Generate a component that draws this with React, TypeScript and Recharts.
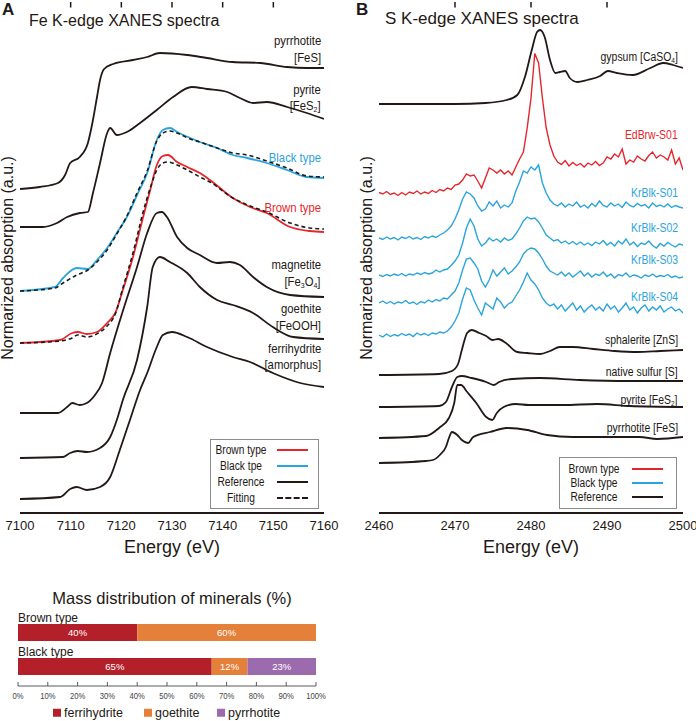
import { LineChart, Line, XAxis, YAxis, Label, BarChart, Bar, LabelList, ReferenceLine } from "recharts";

const W = 696;
const H = 721;
const SANS = "'Liberation Sans', Arial, Helvetica, sans-serif";
const INK = "#231815";
const RED = "#e4262c";
const BLUE = "#2aa4dc";
const Y_MAX = 10.22;

// Fe K-edge spectra: [energy (eV), absorption + stack offset (a.u.)]
const fePyrrhotite = [[7100, 6.48], [7103.9, 6.52], [7107.5, 6.6], [7108.9, 6.76], [7109.9, 7.0], [7111.8, 7.12], [7113.4, 7.4], [7114.4, 7.86], [7115.2, 8.32], [7115.8, 8.66], [7116.6, 8.88], [7118.4, 8.98], [7122.3, 9.06], [7125.1, 9.12], [7127.6, 9.2], [7133, 9.16], [7136.9, 9.1], [7142, 9.02], [7147.4, 9.0], [7152.7, 8.92], [7156.6, 8.9], [7160, 8.9]];
const fePyrite = [[7100, 5.72], [7104.5, 5.72], [7107.3, 5.8], [7109.3, 5.92], [7111.8, 6.0], [7113.4, 6.02], [7114.4, 6.4], [7115.8, 7.0], [7117.2, 7.6], [7117.8, 7.7], [7119.1, 7.56], [7121.1, 7.62], [7123.7, 7.8], [7127, 8.06], [7130.2, 8.32], [7133.9, 8.52], [7136.9, 8.48], [7140.9, 8.42], [7143.4, 8.3], [7146, 8.2], [7148.7, 8.22], [7152.7, 8.12], [7156.6, 8.0], [7160, 7.88]];
const feBlack = [[7100, 4.44], [7106.9, 4.52], [7108.5, 4.7], [7111.2, 4.9], [7113.4, 4.88], [7115.2, 5.06], [7117.2, 5.3], [7119.1, 5.6], [7121.1, 5.92], [7123.1, 6.36], [7125.1, 6.8], [7127, 7.46], [7128.2, 7.66], [7129.6, 7.7], [7131, 7.62], [7133.6, 7.5], [7135.5, 7.42], [7138.9, 7.3], [7142, 7.16], [7144.8, 7.1], [7148.7, 7.0], [7152.7, 6.86], [7156.6, 6.72], [7160, 6.7]];
const feBlackFit = [[7100, 4.44], [7106.9, 4.5], [7108.5, 4.6], [7111.2, 4.76], [7113.4, 4.86], [7115.2, 5.02], [7117.2, 5.26], [7119.1, 5.58], [7121.1, 5.94], [7123.1, 6.4], [7125.1, 6.84], [7127, 7.44], [7128.2, 7.6], [7129.6, 7.64], [7131, 7.6], [7133.6, 7.48], [7135.5, 7.42], [7138.9, 7.3], [7142, 7.2], [7144.8, 7.16], [7148.7, 7.04], [7152.7, 6.9], [7156.6, 6.74], [7160, 6.72]];
const feBrown = [[7100, 3.4], [7107.9, 3.46], [7110.3, 3.6], [7111.4, 3.62], [7113.2, 3.58], [7115.2, 3.62], [7117.2, 3.8], [7118.8, 4.0], [7120.3, 4.46], [7122.3, 5.12], [7124.3, 5.92], [7125.7, 6.46], [7127, 6.96], [7128.2, 7.14], [7129.2, 7.16], [7131, 7.02], [7133, 6.92], [7135.5, 6.8], [7137.5, 6.66], [7142, 6.3], [7145.4, 6.12], [7148.7, 6.0], [7153.3, 5.72], [7157.2, 5.64], [7160, 5.62]];
const feBrownFit = [[7100, 3.4], [7107.9, 3.44], [7110.3, 3.5], [7111.4, 3.56], [7113.2, 3.52], [7115.8, 3.62], [7117.2, 3.74], [7118.8, 3.98], [7120.3, 4.5], [7122.3, 5.2], [7124.3, 6.02], [7125.7, 6.5], [7127, 6.86], [7128.2, 7.0], [7129.2, 7.02], [7131, 6.96], [7133, 6.86], [7135.5, 6.72], [7137.5, 6.62], [7142, 6.3], [7145.4, 6.14], [7148.7, 6.02], [7153.3, 5.8], [7157.2, 5.7], [7160, 5.68]];
const feMagnetite = [[7100, 2.0], [7107.5, 2.0], [7109.3, 2.12], [7110.3, 2.2], [7111.8, 2.16], [7113.2, 2.2], [7114.8, 2.36], [7116.2, 2.6], [7117.8, 3.2], [7120.3, 4.04], [7123.1, 4.92], [7125.1, 5.6], [7127, 6.0], [7128, 6.02], [7129, 5.92], [7131, 5.52], [7133, 5.3], [7135.5, 5.16], [7138.9, 5.0], [7141.4, 5.02], [7143.4, 4.96], [7146, 4.72], [7148.7, 4.52], [7153.3, 4.36], [7160, 4.32]];
const feGoethite = [[7100, 1.1], [7108.5, 1.12], [7109.9, 1.2], [7111.4, 1.24], [7113.2, 1.22], [7115.8, 1.3], [7117.8, 1.52], [7119.3, 1.92], [7120.3, 2.26], [7123.1, 3.06], [7125.1, 4.12], [7126.2, 4.92], [7127.6, 5.12], [7129.6, 5.02], [7133, 4.8], [7135.5, 4.52], [7138.9, 4.26], [7142, 4.16], [7146, 4.0], [7149.9, 3.72], [7153.9, 3.52], [7160, 3.48]];
const feFerrihydrite = [[7100, 0.28], [7107.9, 0.32], [7109.9, 0.48], [7111.2, 0.52], [7113.2, 0.46], [7115.8, 0.52], [7117.8, 0.72], [7119.7, 1.26], [7121.7, 1.86], [7123.7, 2.46], [7125.1, 2.8], [7127, 3.32], [7128.2, 3.56], [7130, 3.62], [7133, 3.52], [7136.9, 3.32], [7142, 3.12], [7145.4, 3.02], [7149.9, 2.8], [7155.3, 2.6], [7160, 2.52]];

// S K-edge reference spectra
const sGypsum = [[2460, 8.18], [2470, 8.18], [2474, 8.2], [2476.8, 8.26], [2478.2, 8.36], [2479.2, 8.72], [2480.1, 9.26], [2480.8, 9.62], [2481.2, 9.66], [2481.8, 9.52], [2482.5, 9.06], [2483.2, 8.8], [2483.8, 8.82], [2484.5, 8.84], [2485.1, 8.7], [2486.1, 8.62], [2487.4, 8.66], [2489.1, 8.74], [2490.1, 8.84], [2491.3, 8.8], [2493.4, 8.76], [2495.7, 8.9], [2497.4, 9.0], [2498.7, 8.96], [2500, 8.9]];
const sSphalerite = [[2460, 2.76], [2467.9, 2.78], [2469.6, 2.84], [2470.4, 2.98], [2470.9, 3.26], [2471.6, 3.6], [2472.2, 3.66], [2473.2, 3.6], [2474.1, 3.54], [2474.9, 3.46], [2475.7, 3.48], [2476.7, 3.4], [2478.2, 3.22], [2479.5, 3.2], [2481.2, 3.18], [2482.5, 3.24], [2483.8, 3.32], [2485.5, 3.32], [2488.2, 3.28], [2491, 3.24], [2494, 3.22], [2497, 3.24], [2500, 3.26]];
const sNativeSulfur = [[2460, 2.12], [2467.9, 2.14], [2468.8, 2.22], [2469.6, 2.52], [2470.3, 2.72], [2470.9, 2.74], [2472.2, 2.7], [2474.1, 2.62], [2475.1, 2.56], [2475.8, 2.62], [2477.5, 2.68], [2481.1, 2.7], [2486.4, 2.66], [2493, 2.64], [2500, 2.64]];
const sPyrite = [[2460, 1.5], [2466.2, 1.54], [2467.9, 1.7], [2469.2, 1.9], [2469.9, 2.2], [2470.3, 2.56], [2470.8, 2.56], [2471.6, 2.42], [2472.8, 2.2], [2474.1, 1.92], [2474.9, 1.86], [2475.5, 2.0], [2476.4, 2.12], [2478, 2.18], [2479.7, 2.16], [2484.2, 2.16], [2488.7, 2.18], [2493, 2.14], [2500, 2.12]];
const sPyrrhotite = [[2460, 1.0], [2466.2, 1.04], [2467.1, 1.06], [2468, 1.16], [2468.8, 1.32], [2469.2, 1.5], [2469.6, 1.62], [2470.3, 1.56], [2470.9, 1.46], [2471.7, 1.4], [2472.4, 1.52], [2474.6, 1.62], [2476.8, 1.7], [2479.5, 1.66], [2482.1, 1.56], [2485.5, 1.52], [2490, 1.52], [2494.3, 1.52], [2496.6, 1.48], [2500, 1.52]];

// S K-edge sample spectra, sampled every 0.5 eV
const sGrid = [
  2460, 2460.5, 2461, 2461.5, 2462, 2462.5, 2463, 2463.5, 2464, 2464.5,
  2465, 2465.5, 2466, 2466.5, 2467, 2467.5, 2468, 2468.5, 2469, 2469.5,
  2470, 2470.5, 2471, 2471.5, 2472, 2472.5, 2473, 2473.5, 2474, 2474.5,
  2475, 2475.5, 2476, 2476.5, 2477, 2477.5, 2478, 2478.5, 2479, 2479.5,
  2480, 2480.5, 2481, 2481.5, 2482, 2482.5, 2483, 2483.5, 2484, 2484.5,
  2485, 2485.5, 2486, 2486.5, 2487, 2487.5, 2488, 2488.5, 2489, 2489.5,
  2490, 2490.5, 2491, 2491.5, 2492, 2492.5, 2493, 2493.5, 2494, 2494.5,
  2495, 2495.5, 2496, 2496.5, 2497, 2497.5, 2498, 2498.5, 2499, 2499.5,
  2500,
];
const edBrwS01 = [
  6.41, 6.38, 6.43, 6.37, 6.4, 6.35, 6.41, 6.36, 6.42, 6.39,
  6.44, 6.38, 6.42, 6.39, 6.45, 6.41, 6.47, 6.44, 6.5, 6.47,
  6.56, 6.58, 6.66, 6.78, 6.74, 6.76, 6.64, 6.5, 6.7, 6.9,
  6.86, 6.8, 6.86, 6.78, 6.84, 6.76, 6.92, 7.08, 7.22, 7.7,
  8.3, 9.19, 9.0, 8.3, 7.7, 7.36, 7.14, 7.02, 6.97, 7.05,
  6.94, 7.01, 6.95, 6.99, 6.92, 7.0, 6.96, 7.03, 6.95, 7.0,
  7.12, 7.08, 7.18, 7.12, 7.28, 6.98, 7.06, 7.02, 7.14, 7.08,
  7.04, 7.15, 7.22, 7.1, 7.16, 7.12, 7.06, 7.26, 6.98, 7.1,
  6.86,
];
const krBlkS01 = [
  5.5, 5.47, 5.52, 5.48, 5.51, 5.46, 5.52, 5.49, 5.53, 5.48,
  5.51, 5.47, 5.53, 5.5, 5.54, 5.51, 5.56, 5.6, 5.66, 5.74,
  5.88, 6.06, 6.28, 6.42, 6.38, 6.3, 6.14, 6.04, 6.08, 6.22,
  6.14, 6.24, 6.1, 6.16, 6.12, 6.2, 6.44, 6.62, 6.84, 6.8,
  6.92, 6.86, 6.96, 6.6, 6.4, 6.26, 6.18, 6.14, 6.2, 6.12,
  6.18, 6.14, 6.22, 6.12, 6.16, 6.1, 6.19, 6.13, 6.24, 6.15,
  6.12, 6.2, 6.14, 6.18, 6.11, 6.22, 6.15, 6.12, 6.19, 6.14,
  6.17, 6.1, 6.2, 6.13, 6.16, 6.12, 6.18, 6.11, 6.15, 6.12,
  6.1,
];
const krBlkS02 = [
  4.76, 4.73, 4.77, 4.74, 4.78, 4.75, 4.79, 4.74, 4.78, 4.76,
  4.8, 4.77, 4.81, 4.78, 4.8, 4.86, 4.82, 4.86, 4.88, 4.95,
  5.04, 5.16, 5.4, 5.7, 5.88, 5.74, 5.48, 5.34, 5.4, 5.5,
  5.44, 5.48, 5.42, 5.5, 5.45, 5.48, 5.58, 5.7, 5.84, 5.92,
  5.88, 5.9, 5.82, 5.7, 5.56, 5.5, 5.44, 5.47, 5.4, 5.44,
  5.38, 5.43, 5.37, 5.42, 5.36, 5.4, 5.35, 5.42, 5.38, 5.45,
  5.36, 5.41, 5.34, 5.44, 5.38, 5.48, 5.36, 5.42, 5.33, 5.4,
  5.37, 5.44, 5.35, 5.3, 5.39, 5.34, 5.41, 5.36, 5.32, 5.38,
  5.36,
];
const krBlkS03 = [
  4.2, 4.24, 4.19, 4.23, 4.18, 4.22, 4.2, 4.25, 4.19, 4.22,
  4.17, 4.23, 4.2, 4.26, 4.22, 4.27, 4.24, 4.3, 4.28, 4.36,
  4.44, 4.6, 4.86, 5.08, 5.1, 5.0, 4.88, 4.64, 4.52, 4.66,
  4.86, 4.74, 4.82, 4.9, 4.78, 4.84, 4.92, 5.02, 5.18, 5.26,
  5.3, 5.28, 5.2, 5.08, 4.94, 4.84, 4.8, 4.76, 4.82, 4.74,
  4.8, 4.72, 4.78, 4.84, 4.74, 4.8, 4.72, 4.78, 4.75, 4.82,
  4.73, 4.78, 4.7, 4.77, 4.74, 4.8, 4.72, 4.76, 4.74, 4.7,
  4.76, 4.73, 4.78, 4.72, 4.75, 4.73, 4.77, 4.71, 4.74, 4.7,
  4.72,
];
const krBlkS04 = [
  3.56, 3.52, 3.58, 3.53, 3.57, 3.54, 3.59, 3.55, 3.58, 3.53,
  3.6, 3.56, 3.59, 3.55, 3.6, 3.58, 3.62, 3.6, 3.64, 3.72,
  3.84, 4.0, 4.28, 4.5, 4.46, 4.26, 4.1, 3.96, 4.2, 4.14,
  4.08, 4.3, 4.22, 4.1, 4.18, 4.22, 4.34, 4.46, 4.62, 4.8,
  4.66, 4.58, 4.46, 4.3, 4.2, 4.14, 4.18, 4.08, 4.16, 4.04,
  4.12, 4.2, 4.06, 4.14, 4.02, 4.1, 4.16, 4.06, 4.12, 4.04,
  4.18, 4.08, 4.14, 4.02, 4.1, 4.2, 4.06, 4.12, 4.0, 4.1,
  4.16, 4.04, 4.12, 4.06, 4.14, 4.02, 4.08, 4.12, 4.04, 4.08,
  4.0,
];

const feTicks = [7100, 7110, 7120, 7130, 7140, 7150, 7160];
const sTicks = [2460, 2470, 2480, 2490, 2500];

// mass distribution (%)
const massTypes = ["Brown type", "Black type"];
const ferrihydrite = [40, 65];
const goethite = [60, 12];
const pyrrhotite = [0, 23];
const pctTicks = [0, 10, 20, 30, 40, 50, 60, 70, 80, 90, 100];
const MINERALS = ["ferrihydrite", "goethite", "pyrrhotite"] as const;
const MINERAL_COLORS = { ferrihydrite: "#b3202a", goethite: "#e5803a", pyrrhotite: "#9c6bad" };

const pts = (arr: number[][]) => arr.map(([e, v]) => ({ e, v }));
const gridPts = (vals: number[]) => sGrid.map((e, i) => ({ e, v: vals[i] }));

const curve = (key: string, data: any[], color: string, extra: any = {}) => (
  <Line
    key={key}
    xAxisId="b"
    yAxisId="l"
    data={data}
    dataKey="v"
    type="monotone"
    stroke={color}
    strokeWidth={1.8}
    dot={false}
    activeDot={false}
    isAnimationActive={false}
    {...extra}
  />
);

const frameAxes = (domain: number[], ticks: number[]) => {
  const edge = { stroke: INK, strokeWidth: 2 };
  return [
    <XAxis
      key="xb"
      xAxisId="b"
      dataKey="e"
      type="number"
      domain={domain}
      ticks={ticks}
      interval={0}
      allowDataOverflow
      height={45}
      axisLine={edge}
      tickLine={false}
      tick={{ fontSize: 13, fill: INK, fontFamily: SANS }}
    >
      <Label value="Energy (eV)" position="insideBottom" offset={5} style={{ fontSize: 18, fill: INK, fontFamily: SANS }} />
    </XAxis>,
    <XAxis
      key="xt"
      xAxisId="t"
      orientation="top"
      dataKey="e"
      type="number"
      domain={domain}
      allowDataOverflow
      height={0}
      tick={false}
      tickLine={false}
      axisLine={edge}
    />,
    <YAxis key="yl" yAxisId="l" type="number" domain={[0, Y_MAX]} allowDataOverflow width={0} tick={false} tickLine={false} axisLine={edge} />,
    <YAxis key="yr" yAxisId="r" orientation="right" type="number" domain={[0, Y_MAX]} allowDataOverflow width={0} tick={false} tickLine={false} axisLine={edge} />,
    // short inward tick marks hanging from the top edge
    ...ticks.slice(1, -1).map((t) => (
      <ReferenceLine
        key={`tk-${t}`}
        xAxisId="b"
        yAxisId="l"
        segment={[{ x: t, y: Y_MAX }, { x: t, y: Y_MAX - 0.11 }]}
        stroke={INK}
        strokeWidth={1.5}
      />
    )),
  ];
};

// condensed label text, anchored at its right end
function Tag({ x, y, color = INK, size = 13, children }: any) {
  return (
    <div
      style={{
        position: "absolute",
        right: W - x,
        top: y,
        transform: "translateY(-50%) scaleX(0.87)",
        transformOrigin: "right center",
        color,
        fontSize: size,
        lineHeight: 1,
        whiteSpace: "nowrap",
      }}
    >
      {children}
    </div>
  );
}

const Sub = ({ children }: any) => (
  <span style={{ fontSize: "0.62em", position: "relative", top: "0.25em" }}>{children}</span>
);

function LegendBox({ left, top, width, rows, textX, lineX, lineW, rowH, first }: any) {
  return (
    <div
      style={{
        position: "absolute",
        left,
        top,
        width,
        height: first * 2 + rowH * (rows.length - 1),
        border: "1px solid #8c8c8c",
        background: "#fff",
        fontSize: 12,
      }}
    >
      {rows.map((r: any, i: number) => (
        <div key={r.label}>
          <div
            style={{
              position: "absolute",
              left: textX,
              top: first + i * rowH,
              transform: "translate(-50%, -50%) scaleX(0.85)",
              lineHeight: 1,
              whiteSpace: "nowrap",
              color: INK,
            }}
          >
            {r.label}
          </div>
          <div
            style={{
              position: "absolute",
              left: lineX,
              width: lineW,
              top: first + i * rowH - 1,
              borderTop: `2px ${r.dashed ? "dashed" : "solid"} ${r.color}`,
            }}
          />
        </div>
      ))}
    </div>
  );
}

const massRows = massTypes.map((name, i) => ({
  name,
  ferrihydrite: ferrihydrite[i],
  goethite: goethite[i],
  pyrrhotite: pyrrhotite[i],
}));

const pctLabel = (v: any) => (v ? `${v}%` : "");

export default function App() {
  const yLabel = (x: number) => (
    <div
      style={{
        position: "absolute",
        left: x,
        top: 258,
        transform: "translate(-50%, -50%) rotate(-90deg)",
        fontSize: 16,
        whiteSpace: "nowrap",
        lineHeight: 1,
      }}
    >
      Normarized absorption (a.u.)
    </div>
  );

  return (
    <div
      style={{
        position: "absolute",
        left: 0,
        top: 0,
        width: W,
        height: H,
        background: "#fff",
        color: INK,
        fontFamily: SANS,
        overflow: "hidden",
      }}
    >
      {/* A: Fe K-edge */}
      <div style={{ position: "absolute", left: 0, top: 0 }}>
        <LineChart width={340} height={560} margin={{ top: 2, right: 16, bottom: 2, left: 20 }}>
          {frameAxes([7100, 7160], feTicks)}
          {curve("fe-po", pts(fePyrrhotite), INK)}
          {curve("fe-py", pts(fePyrite), INK)}
          {curve("fe-blk", pts(feBlack), BLUE)}
          {curve("fe-brw", pts(feBrown), RED)}
          {curve("fe-mag", pts(feMagnetite), INK)}
          {curve("fe-goe", pts(feGoethite), INK)}
          {curve("fe-fh", pts(feFerrihydrite), INK)}
          {curve("fe-blk-fit", pts(feBlackFit), "#1a1a1a", { strokeDasharray: "4 3", strokeWidth: 1.6 })}
          {curve("fe-brw-fit", pts(feBrownFit), "#1a1a1a", { strokeDasharray: "4 3", strokeWidth: 1.6 })}
        </LineChart>
      </div>

      {/* B: S K-edge */}
      <div style={{ position: "absolute", left: 340, top: 0 }}>
        <LineChart width={356} height={560} margin={{ top: 2, right: 13, bottom: 2, left: 39 }}>
          {frameAxes([2460, 2500], sTicks)}
          {curve("s-gyp", pts(sGypsum), INK)}
          {curve("s-brw", gridPts(edBrwS01), RED, { type: "linear", strokeWidth: 1.4 })}
          {curve("s-b1", gridPts(krBlkS01), BLUE, { type: "linear", strokeWidth: 1.4 })}
          {curve("s-b2", gridPts(krBlkS02), BLUE, { type: "linear", strokeWidth: 1.4 })}
          {curve("s-b3", gridPts(krBlkS03), BLUE, { type: "linear", strokeWidth: 1.4 })}
          {curve("s-b4", gridPts(krBlkS04), BLUE, { type: "linear", strokeWidth: 1.4 })}
          {curve("s-sph", pts(sSphalerite), INK)}
          {curve("s-ns", pts(sNativeSulfur), INK)}
          {curve("s-py", pts(sPyrite), INK)}
          {curve("s-po", pts(sPyrrhotite), INK)}
        </LineChart>
      </div>

      {/* panel letters and titles */}
      <div style={{ position: "absolute", left: 2, top: 1, fontSize: 17, fontWeight: "bold", lineHeight: 1 }}>A</div>
      <div style={{ position: "absolute", left: 29, top: 13, fontSize: 16, lineHeight: 1 }}>Fe K-edge XANES spectra</div>
      <div style={{ position: "absolute", left: 356, top: 1, fontSize: 17, fontWeight: "bold", lineHeight: 1 }}>B</div>
      <div style={{ position: "absolute", left: 385, top: 10, fontSize: 17, lineHeight: 1 }}>S K-edge XANES spectra</div>
      {yLabel(8)}
      {yLabel(367)}

      {/* Fe curve labels */}
      <Tag x={321} y={40}>pyrrhotite</Tag>
      <Tag x={321} y={57}>[FeS]</Tag>
      <Tag x={321} y={89}>pyrite</Tag>
      <Tag x={321} y={106}>[FeS<Sub>2</Sub>]</Tag>
      <Tag x={321} y={157} color={BLUE}>Black type</Tag>
      <Tag x={321} y={207} color={RED}>Brown type</Tag>
      <Tag x={321} y={264}>magnetite</Tag>
      <Tag x={321} y={282}>[Fe<Sub>3</Sub>O<Sub>4</Sub>]</Tag>
      <Tag x={321} y={308}>goethite</Tag>
      <Tag x={321} y={325}>[FeOOH]</Tag>
      <Tag x={321} y={348}>ferrihydrite</Tag>
      <Tag x={321} y={364}>[amorphus]</Tag>

      {/* S curve labels */}
      <Tag x={678} y={57} size={12}>gypsum [CaSO<Sub>4</Sub>]</Tag>
      <Tag x={678} y={135} size={12} color={RED}>EdBrw-S01</Tag>
      <Tag x={678} y={193} size={12} color={BLUE}>KrBlk-S01</Tag>
      <Tag x={678} y={228} size={12} color={BLUE}>KrBlk-S02</Tag>
      <Tag x={678} y={260} size={12} color={BLUE}>KrBlk-S03</Tag>
      <Tag x={678} y={297} size={12} color={BLUE}>KrBlk-S04</Tag>
      <Tag x={678} y={340} size={12}>sphalerite [ZnS]</Tag>
      <Tag x={678} y={372} size={12}>native sulfur [S]</Tag>
      <Tag x={678} y={400} size={12}>pyrite [FeS<Sub>2</Sub>]</Tag>
      <Tag x={678} y={428} size={12}>pyrrhotite [FeS]</Tag>

      <LegendBox
        left={210}
        top={439}
        width={107}
        first={10}
        rowH={16}
        textX={30}
        lineX={66}
        lineW={31}
        rows={[
          { label: "Brown type", color: RED },
          { label: "Black tpe", color: BLUE },
          { label: "Reference", color: INK },
          { label: "Fitting", color: INK, dashed: true },
        ]}
      />
      <LegendBox
        left={559}
        top={457}
        width={116}
        first={11}
        rowH={14}
        textX={34}
        lineX={72}
        lineW={31}
        rows={[
          { label: "Brown type", color: RED },
          { label: "Black type", color: BLUE },
          { label: "Reference", color: INK },
        ]}
      />

      {/* mass distribution */}
      <div style={{ position: "absolute", left: 172, top: 598, transform: "translate(-50%, -50%)", fontSize: 16.5, whiteSpace: "nowrap", lineHeight: 1 }}>
        Mass distribution of minerals (%)
      </div>
      {massTypes.map((t, i) => (
        <div key={t} style={{ position: "absolute", left: 18, top: [618, 652][i], transform: "translateY(-50%)", fontSize: 12, lineHeight: 1 }}>
          {t}
        </div>
      ))}
      <div style={{ position: "absolute", left: 0, top: 600 }}>
        <BarChart
          width={340}
          height={110}
          data={massRows}
          layout="vertical"
          barSize={17}
          margin={{ top: 15, right: 24, bottom: 10, left: 18 }}
        >
          <XAxis
            type="number"
            domain={[0, 100]}
            ticks={pctTicks}
            interval={0}
            height={14}
            tickSize={0}
            tickMargin={0}
            tickLine={false}
            axisLine={{ stroke: "#5a5a5a", strokeWidth: 1 }}
            tick={(p: any) => (
              <g>
                <line x1={p.x} x2={p.x} y1={p.y - 4} y2={p.y} stroke="#5a5a5a" strokeWidth={1} />
                <text x={p.x} y={p.y + 13} textAnchor="middle" fontSize={9} fill="#444" fontFamily={SANS} transform={`translate(${p.x} 0) scale(0.85 1) translate(${-p.x} 0)`}>
                  {`${p.payload.value}%`}
                </text>
              </g>
            )}
          />
          <YAxis type="category" dataKey="name" hide padding={{ top: 0, bottom: 3 }} />
          {MINERALS.map((m) => (
            <Bar key={m} dataKey={m} stackId="m" fill={MINERAL_COLORS[m]} isAnimationActive={false}>
              <LabelList dataKey={m} position="center" fill="#fff" fontSize={9.5} fontFamily={SANS} formatter={pctLabel} />
            </Bar>
          ))}
        </BarChart>
      </div>
      {MINERALS.map((m, i) => (
        <div
          key={m}
          style={{ position: "absolute", left: [53, 144, 217][i], top: 713, transform: "translateY(-50%)", display: "flex", alignItems: "center", fontSize: 12.5, lineHeight: 1 }}
        >
          <span style={{ display: "inline-block", width: 8, height: 8, background: MINERAL_COLORS[m], marginRight: 3 }} />
          {m}
        </div>
      ))}
    </div>
  );
}
